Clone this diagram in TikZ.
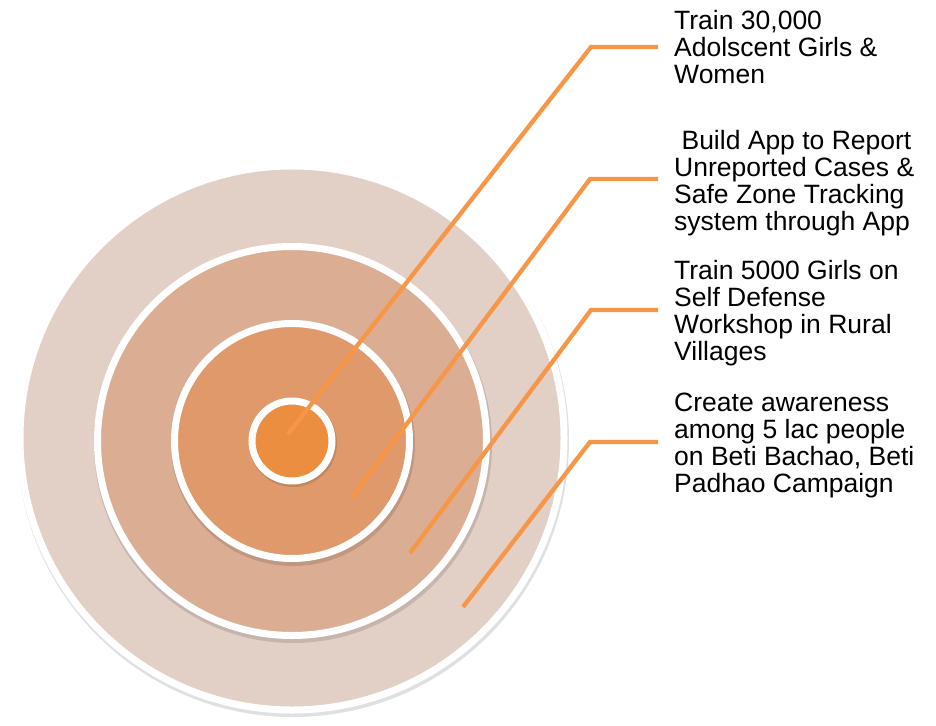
\documentclass[tikz,border=0pt]{standalone}
\usepackage{fontspec}
\setmainfont{Liberation Sans}
\usetikzlibrary{positioning}

\definecolor{ringouter}{HTML}{E2CFC5}
\definecolor{ringsecond}{HTML}{DBAE93}
\definecolor{ringthird}{HTML}{E0996A}
\definecolor{ringinner}{HTML}{EC8E3F}
\definecolor{leadorange}{HTML}{F79646}

\begin{document}
\begin{tikzpicture}[x=1pt, y=-1pt,
    ring/.style={circle, draw=white, line width=7pt, inner sep=0pt},
    shade/.style={fill=black, opacity=0.12},
    goal/.style={anchor=north west, align=left, inner xsep=16pt, inner ysep=0pt, font=\fontsize{26.5}{27}\selectfont},
    lead/.style={draw=leadorange, line width=4.3pt}
]
    \useasboundingbox (0,0) rectangle (936,725);

    % Target rings
    \fill[shade] (293,441) circle (276);
    \node[ring, fill=ringouter, minimum size=544pt] (outer) at (292,438) {};
    \fill[shade] (293,444) circle (199);
    \node[ring, fill=ringsecond, minimum size=389pt] (second) at (292,441) {};
    \fill[shade] (293,444) circle (122);
    \node[ring, fill=ringthird, minimum size=235pt] (third) at (292,441) {};
    \fill[shade] (293,443) circle (44);
    \node[ring, fill=ringinner, minimum size=80pt] (inner) at (292,441) {};

    % Goals
    \node[goal] (train) at (658,10) {Train 30,000\\Adolscent Girls \&\\Women};
    \node[goal] (app) at (658,130) {\hspace*{0.278em}Build App to Report\\Unreported Cases \&\\Safe Zone Tracking\\system through App};
    \node[goal] (defense) at (658,260) {Train 5000 Girls on\\Self Defense\\Workshop in Rural\\Villages};
    \node[goal] (awareness) at (658,393) {Create awareness\\among 5 lac people\\on Beti Bachao, Beti\\Padhao Campaign};

    % Lead lines
    \coordinate (c1) at (288,434);
    \coordinate (c2) at (352,497);
    \coordinate (c3) at (410,553);
    \coordinate (c4) at (463,607);
    \coordinate (b1) at (591,47);
    \coordinate (b2) at (590,179);
    \coordinate (b3) at (591,310);
    \coordinate (b4) at (590,442);

    \draw[lead] (c1) -- (b1) -- (b1 -| train.west);
    \draw[lead] (c2) -- (b2) -- (b2 -| app.west);
    \draw[lead] (c3) -- (b3) -- (b3 -| defense.west);
    \draw[lead] (c4) -- (b4) -- (b4 -| awareness.west);
\end{tikzpicture}
\end{document}
